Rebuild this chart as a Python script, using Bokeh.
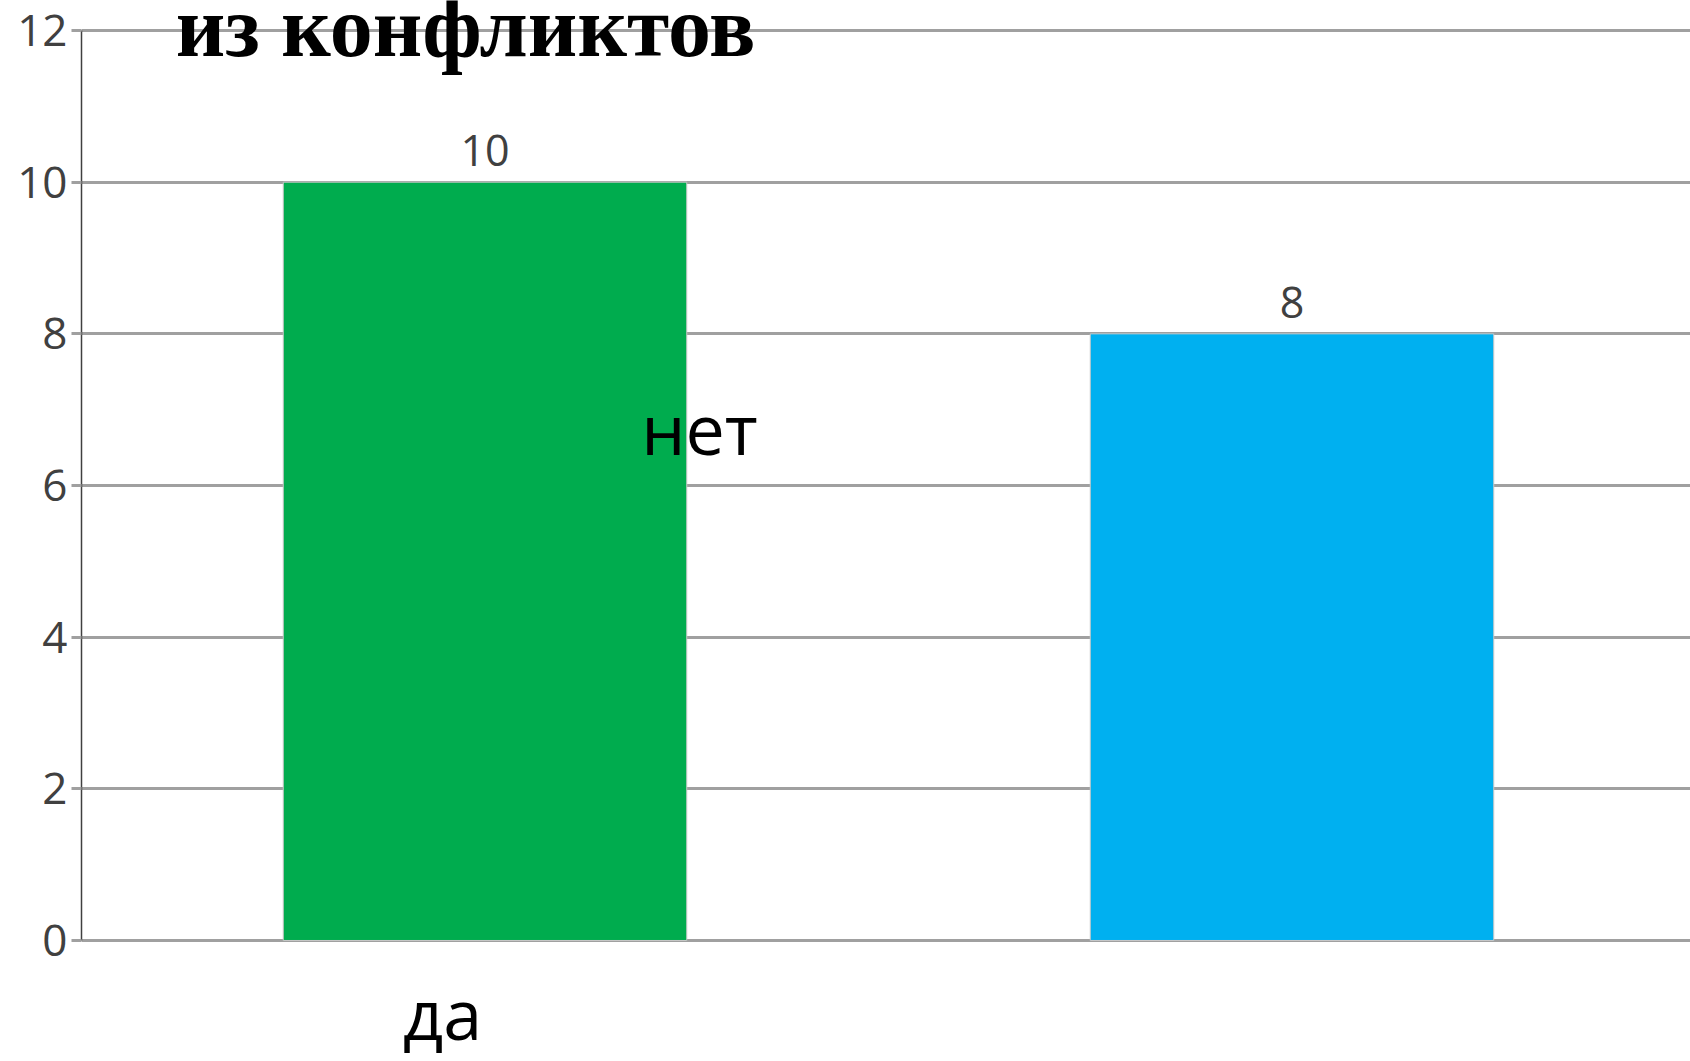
from bokeh.plotting import figure
from bokeh.models import ColumnDataSource, Range1d, FixedTicker
from bokeh.core.properties import value
from bokeh.embed import file_html
from bokeh.resources import INLINE

# ---- data ----
categories = ["да", "нет"]
counts = [10, 8]
bar_colors = ["#00AC4E", "#00B0F0"]
y_ticks = [0, 2, 4, 6, 8, 10, 12]
title_text = "из конфликтов"

xs = [i + 0.5 for i in range(len(categories))]
src = ColumnDataSource(dict(x=xs, top=counts, color=bar_colors,
                            label=[str(c) for c in counts]))

FONT = "Open Sans"
PX_PER_UNIT_Y = 75.83   # layout scale
PX_PER_UNIT_X = 807.0

W, H = 1690, 1061
LEFT = 81
y_lo = -(H - 940) / PX_PER_UNIT_Y
y_hi = 12 + 30 / PX_PER_UNIT_Y

p = figure(width=W, height=H, output_backend="svg", toolbar_location=None,
           x_range=Range1d(0, (W - LEFT) / PX_PER_UNIT_X),
           y_range=Range1d(y_lo, y_hi),
           min_border_left=LEFT, min_border_top=0, min_border_bottom=0,
           min_border_right=0)
p.outline_line_color = None
p.background_fill_color = "white"

p.vbar(x="x", top="top", bottom=0, width=0.5, color="color", source=src,
       line_color="#c8c8c8", line_width=1)

p.text(x="x", y="top", text="label", source=src, text_align="center",
       text_baseline="bottom", y_offset=-16, text_font=value(FONT),
       text_font_size="43px", text_color="#404040")

# axes
p.xaxis.visible = False
p.xgrid.visible = False
ya = p.yaxis[0]
ya.ticker = FixedTicker(ticks=y_ticks)
ya.bounds = (0, 12)
ya.minor_tick_line_color = None
ya.major_tick_in = 0
ya.major_tick_out = 10
ya.major_tick_line_color = "#a0a0a0"
ya.major_tick_line_width = 3
ya.axis_line_color = "#404040"
ya.axis_line_width = 1.5
ya.major_label_text_font = FONT
ya.major_label_text_font_size = "44px"
ya.major_label_text_color = "#404040"
ya.major_label_standoff = 4
p.ygrid.grid_line_color = "#a0a0a0"
p.ygrid.grid_line_width = 3
p.ygrid.ticker = FixedTicker(ticks=y_ticks)

# category labels (placed as in the original)
cat_src = ColumnDataSource(dict(
    x=[(442 - LEFT) / PX_PER_UNIT_X, (699 - LEFT) / PX_PER_UNIT_X],
    y=[-0.95, 6.76],
    text=categories))
p.text(x="x", y="y", text="text", source=cat_src, text_align="center",
       text_baseline="alphabetic", text_font=value(FONT),
       text_font_size="70px", text_color="black")

# title (second line visible at top)
title_src = ColumnDataSource(dict(x=[(465 - LEFT) / PX_PER_UNIT_X], y=[12.04],
                                  text=[title_text]))
p.text(x="x", y="y", text="text", source=title_src, text_align="center",
       text_baseline="alphabetic", text_font=value("Liberation Serif"),
       text_font_style="bold", text_font_size="86px", text_color="black")

open("out.html", "w").write(file_html(p, INLINE))
